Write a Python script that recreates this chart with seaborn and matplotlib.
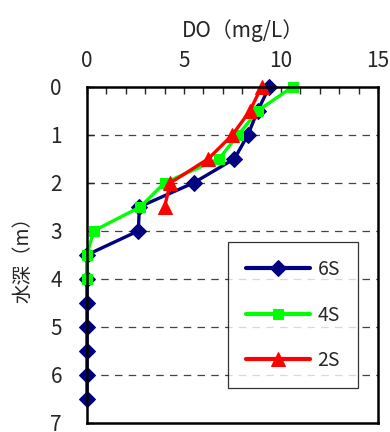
import matplotlib
matplotlib.use("Agg")
import matplotlib.pyplot as plt
import seaborn as sns
import pandas as pd
from matplotlib.ticker import MultipleLocator

sns.set_style("white")
plt.rcParams['font.family'] = ['Noto Sans CJK JP', 'DejaVu Sans']

depth_6s = [0, 0.5, 1.0, 1.5, 2.0, 2.5, 3.0, 3.5, 4.0, 4.5, 5.0, 5.5, 6.0, 6.5]
do_6s = [9.4, 8.8, 8.3, 7.6, 5.5, 2.7, 2.65, 0, 0, 0, 0, 0, 0, 0]
depth_4s = [0, 0.5, 1.0, 1.5, 2.0, 2.5, 3.0, 3.5, 4.0]
do_4s = [10.6, 8.8, 7.8, 6.8, 4.0, 2.75, 0.35, 0, 0]
depth_2s = [0, 0.5, 1.0, 1.5, 2.0, 2.5]
do_2s = [9.0, 8.4, 7.5, 6.25, 4.3, 4.0]

series = [
    ("6S", depth_6s, do_6s, "#000080", "D", 8.5),
    ("4S", depth_4s, do_4s, "#00FF00", "s", 6.5),
    ("2S", depth_2s, do_2s, "#FF0000", "^", 10),
]

fig = plt.figure(figsize=(3.9, 4.32), dpi=100)
ax = fig.add_axes([0.223, 0.021, 0.746, 0.778])

for name, d, v, c, m, ms in series:
    df = pd.DataFrame({"DO": v, "depth": d})
    sns.lineplot(data=df, x="DO", y="depth", orient="y", ax=ax, color=c,
                 marker=m, markersize=ms, markeredgecolor=c, linewidth=2.4,
                 label=name, clip_on=False)

ax.set_xlim(0, 15)
ax.set_ylim(7, 0)
ax.xaxis.tick_top()
ax.xaxis.set_label_position("top")
ax.xaxis.set_major_locator(MultipleLocator(5))
ax.xaxis.set_minor_locator(MultipleLocator(1))
ax.yaxis.set_major_locator(MultipleLocator(1))
ax.tick_params(axis="x", which="both", direction="in", top=True, bottom=False,
               labelsize=15, length=5, width=1, pad=11)
ax.tick_params(axis="y", which="major", direction="in", left=True,
               labelsize=15, length=5, width=1, pad=18)
for yv in range(1, 7):
    ax.axhline(yv, color="#444444", linestyle=(0, (6, 5)), linewidth=0.9, zorder=0)
for s in ax.spines.values():
    s.set_color("black")
    s.set_linewidth(1.8)

ax.set_xlabel("DO（mg/L）", fontsize=15, labelpad=9)
ax.xaxis.label.set_x(0.535)
ax.set_ylabel("水深（m）", fontsize=14, labelpad=12)

leg = ax.legend(loc="upper left", bbox_to_anchor=(0.485, 0.539), fontsize=14,
                frameon=True, fancybox=False, edgecolor="black", handlelength=3.3,
                labelspacing=1.25, borderpad=0.9, handletextpad=0.4,
                borderaxespad=0)
leg.get_frame().set_linewidth(0.9)
for h in leg.get_lines():
    h.set_linewidth(3)

fig.savefig("out.png", dpi=100)
